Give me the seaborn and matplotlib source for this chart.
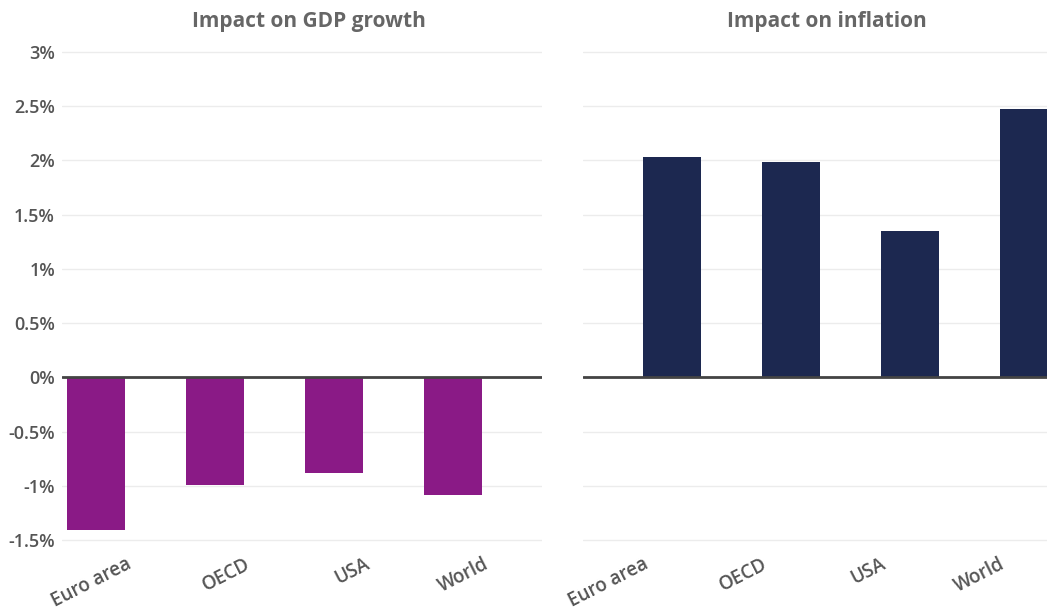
import matplotlib
matplotlib.use("Agg")
import matplotlib.pyplot as plt
import seaborn as sns

regions = ["Euro area", "OECD", "USA", "World"]
gdp_impact = [-1.40, -0.99, -0.88, -1.08]
inflation_impact = [2.03, 1.98, 1.35, 2.47]
y_ticks = [-1.5, -1, -0.5, 0, 0.5, 1, 1.5, 2, 2.5, 3]
y_tick_labels = ["-1.5%", "-1%", "-0.5%", "0%", "0.5%", "1%", "1.5%", "2%", "2.5%", "3%"]

sns.set_style("white")
plt.rcParams["font.family"] = ["Open Sans", "DejaVu Sans"]

W, H = 1047, 613
fig = plt.figure(figsize=(W / 100, H / 100), dpi=100)

def px_axes(x0, x1, y_top, y_bot):
    return fig.add_axes([x0 / W, 1 - y_bot / H, (x1 - x0) / W, (y_bot - y_top) / H])

ax_gdp = px_axes(62, 542, 50, 542)
ax_inf = px_axes(583, 1047, 50, 542)

# axes, values, colour, title, first bar centre (px), title x (axes frac), label shift (cats)
panels = [
    (ax_gdp, gdp_impact, "#8a1a86", "Impact on GDP growth", 96, 0.515, 0.25),
    (ax_inf, inflation_impact, "#1c2850", "Impact on inflation", 672, 0.526, -0.25),
]

step = 119.0
for ax, vals, col, title, first_center, title_x, shift in panels:
    sns.barplot(x=regions, y=vals, color=col, saturation=1, width=0.48, ax=ax,
                edgecolor="none")
    left_px = ax.get_position().x0 * W
    right_px = ax.get_position().x1 * W
    ax.set_xlim(-(first_center - left_px) / step, (right_px - first_center) / step)
    ax.set_ylim(-1.515, 3.015)
    ax.set_yticks(y_ticks)
    ax.yaxis.grid(True, color="#ececec", linewidth=1)
    ax.set_axisbelow(True)
    ax.axhline(0, color="#444444", linewidth=2, zorder=5)
    for s in ax.spines.values():
        s.set_visible(False)
    ax.tick_params(axis="both", length=0)
    ax.set_xticks([i + shift for i in range(len(regions))])
    ax.set_xticklabels(regions, rotation=27, ha="right", va="top",
                       rotation_mode="anchor", fontsize=13.5,
                       color="#555555", fontweight="semibold")
    ax.tick_params(axis="x", pad=9)
    fig.text((left_px + title_x * (right_px - left_px)) / W, 1 - 21 / H, title,
             ha="center", va="center", fontsize=15, fontweight="bold", color="#666666")

ax_gdp.set_yticklabels(y_tick_labels, fontsize=13, color="#555555", fontweight="semibold")
ax_gdp.tick_params(axis="y", pad=5)
ax_inf.set_yticklabels([])

fig.savefig("out.png", dpi=100)
